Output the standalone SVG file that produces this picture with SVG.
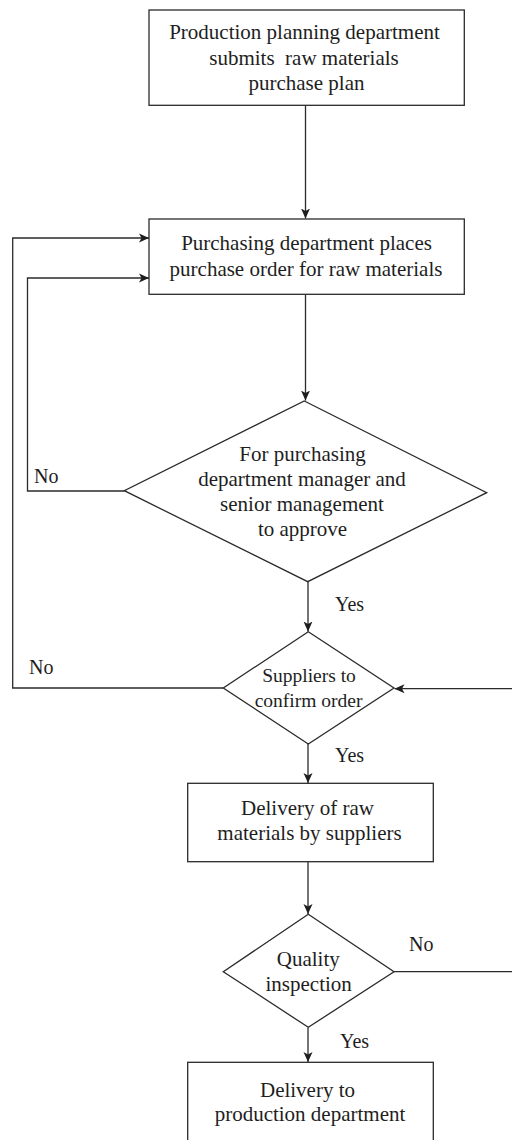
<svg xmlns="http://www.w3.org/2000/svg" width="512" height="1140" viewBox="0 0 512 1140">
  <style>
    .shape { fill: #fff; stroke: #2b2b2b; stroke-width: 1.3; }
    .wire { fill: none; stroke: #2b2b2b; stroke-width: 1.3; }
    text { font-family: "Liberation Serif", "Times New Roman", serif; font-size: 21px; fill: #1e1e1e; text-anchor: middle; }
    .small { font-size: 19.5px; }
    .lbl { font-size: 20px; text-anchor: start; }
  </style>
  <defs>
    <marker id="arrow" markerUnits="userSpaceOnUse" markerWidth="10" markerHeight="10" refX="10" refY="5" orient="auto">
      <path d="M0,0.5 L10,5 L0,9.5 L2.5,5 Z" fill="#1e1e1e"/>
    </marker>
  </defs>
  <rect width="512" height="1140" fill="#fff"/>

  <!-- connectors -->
  <g id="connectors">
    <path class="wire" d="M305.5,105.5 V218.5" marker-end="url(#arrow)"/>
    <path class="wire" d="M305.5,294.5 V400.5" marker-end="url(#arrow)"/>
    <path class="wire" d="M308,582 V631.5" marker-end="url(#arrow)"/>
    <path class="wire" d="M308,744 V783" marker-end="url(#arrow)"/>
    <path class="wire" d="M308,862 V914" marker-end="url(#arrow)"/>
    <path class="wire" d="M308,1027.5 V1062" marker-end="url(#arrow)"/>
    <!-- approval rejected: back to purchase order -->
    <path class="wire" d="M124.5,491 H27.5 V278 H149" marker-end="url(#arrow)"/>
    <!-- supplier declined: back to purchase order -->
    <path class="wire" d="M223.5,688 H12.7 V238 H149" marker-end="url(#arrow)"/>
    <!-- inspection failed: back to supplier confirmation -->
    <path class="wire" d="M394,971.7 H514 V688.7 H394.5" marker-end="url(#arrow)"/>
    <text class="lbl" x="34" y="483">No</text>
    <text class="lbl" x="335" y="611">Yes</text>
    <text class="lbl" x="29" y="674">No</text>
    <text class="lbl" x="335" y="762">Yes</text>
    <text class="lbl" x="409" y="951">No</text>
    <text class="lbl" x="340" y="1048">Yes</text>
  </g>

  <g id="plan">
    <rect class="shape" x="149" y="10" width="315.3" height="95.3"/>
    <text x="304.5" y="39">Production planning department</text>
    <text x="304" y="64.5" xml:space="preserve">submits  raw materials</text>
    <text x="306.5" y="90">purchase plan</text>
  </g>

  <g id="order">
    <rect class="shape" x="149" y="219" width="315.3" height="75.3"/>
    <text x="306.5" y="250">Purchasing department places</text>
    <text x="306" y="276">purchase order for raw materials</text>
  </g>

  <g id="approve">
    <polygon class="shape" points="304.3,401 486.7,492.7 307.7,581.7 124.3,490.7"/>
    <text x="302.5" y="460.5">For purchasing</text>
    <text x="302" y="485.5">department manager and</text>
    <text x="302" y="511">senior management</text>
    <text x="302.5" y="536">to approve</text>
  </g>

  <g id="confirm">
    <polygon class="shape" points="308.3,631.7 394,688 308.3,744 223.3,688"/>
    <text class="small" x="309" y="682">Suppliers to</text>
    <text class="small" x="308.5" y="707">confirm order</text>
  </g>

  <g id="deliver">
    <rect class="shape" x="187.7" y="783.3" width="245.6" height="78.4"/>
    <text x="307.5" y="815">Delivery of raw</text>
    <text x="309.5" y="840">materials by suppliers</text>
  </g>

  <g id="inspect">
    <polygon class="shape" points="308.3,914.3 394,971.7 308.3,1027.3 223.3,971.7"/>
    <text x="308.3" y="966">Quality</text>
    <text x="308.7" y="990.5">inspection</text>
  </g>

  <g id="handover">
    <rect class="shape" x="187.7" y="1062.3" width="245.6" height="90"/>
    <text x="307.5" y="1096.5">Delivery to</text>
    <text x="310" y="1120.5">production department</text>
  </g>
</svg>
